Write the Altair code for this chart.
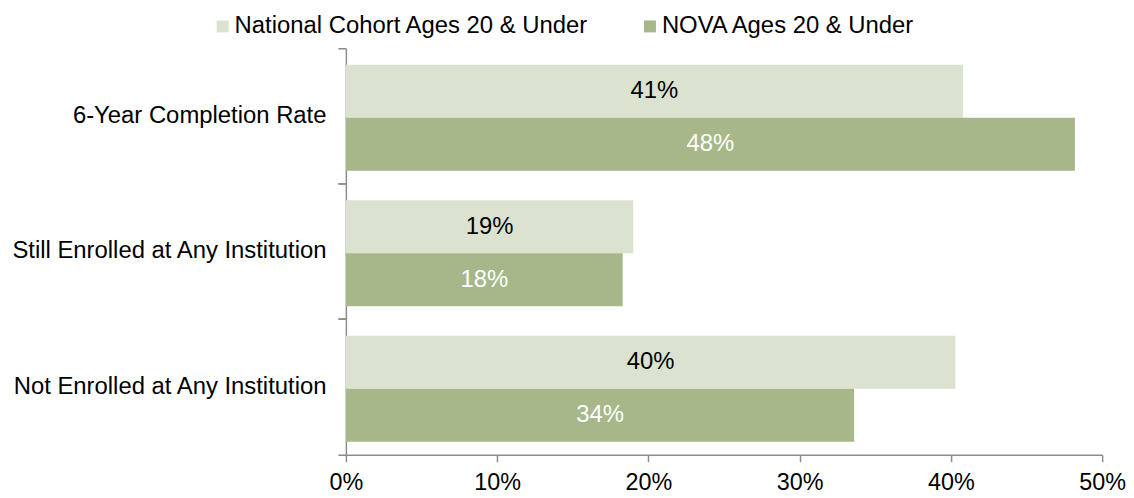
import altair as alt
import pandas as pd

categories = ["6-Year Completion Rate", "Still Enrolled at Any Institution", "Not Enrolled at Any Institution"]
series = ["National Cohort Ages 20 & Under", "NOVA Ages 20 & Under"]
national = [0.408, 0.190, 0.403]
nova = [0.482, 0.183, 0.336]
colors = ["#DBE2CF", "#A7B78A"]
text_colors = ["#000000", "#FFFFFF"]

rows = []
for i, c in enumerate(categories):
    rows.append({"category": c, "series": series[0], "value": national[i], "tc": text_colors[0]})
    rows.append({"category": c, "series": series[1], "value": nova[i], "tc": text_colors[1]})
df = pd.DataFrame(rows)

FONT = "Liberation Sans"
FS = 24

yscale = alt.Scale(paddingInner=0, paddingOuter=0)
yoff = alt.YOffset("series:N", sort=series,
                   scale=alt.Scale(paddingOuter=0.28, paddingInner=0, align=0.56))
xscale = alt.Scale(domain=[0, 0.5], nice=False)

bars = alt.Chart(df).mark_bar().encode(
    y=alt.Y("category:N", sort=categories, scale=yscale, title=None,
            axis=alt.Axis(bandPosition=0, labelFontSize=FS, labelColor="#000000",
                          labelPadding=12, tickSize=8, labelLimit=500,
                          domainColor="#8C8C8C", tickColor="#8C8C8C",
                          domainWidth=1.5, tickWidth=1.5, orient="left")),
    yOffset=yoff,
    x=alt.X("value:Q", scale=xscale, title=None,
            axis=alt.Axis(format=".0%", values=[0, 0.1, 0.2, 0.3, 0.4, 0.5],
                          labelFontSize=23.5, labelColor="#000000", tickSize=7,
                          labelPadding=9, labelFlush=False,
                          domainColor="#8C8C8C", tickColor="#8C8C8C",
                          domainWidth=1.5, tickWidth=1.5, grid=False)),
    color=alt.Color("series:N", sort=series,
                    scale=alt.Scale(domain=series, range=colors),
                    legend=alt.Legend(title=None, orient="none", legendX=-136, legendY=-34,
                                      direction="horizontal", symbolType="square",
                                      symbolSize=144, symbolStrokeWidth=0,
                                      labelFontSize=FS, labelColor="#000000",
                                      labelOffset=0, columnPadding=49, padding=0,
                                      labelLimit=600)),
)

texts = alt.Chart(df).transform_calculate(
    mid="datum.value / 2"
).mark_text(fontSize=FS, font=FONT).encode(
    y=alt.Y("category:N", sort=categories, scale=yscale, title=None,
            axis=alt.Axis(bandPosition=1, labels=False, domain=False, tickSize=8,
                          tickColor="#8C8C8C", tickWidth=1.5, orient="left")),
    yOffset=yoff,
    x=alt.X("mid:Q", scale=xscale),
    text=alt.Text("value:Q", format=".0%"),
    color=alt.Color("tc:N", scale=None),
)

chart = alt.layer(bars, texts).resolve_axis(y="independent").properties(
    width=761, height=409,
    padding={"left": 2, "top": 5, "right": 0, "bottom": 0},
).configure(font=FONT).configure_view(stroke=None)

chart.save("out.html", embed_options={"renderer": "svg", "actions": False})
